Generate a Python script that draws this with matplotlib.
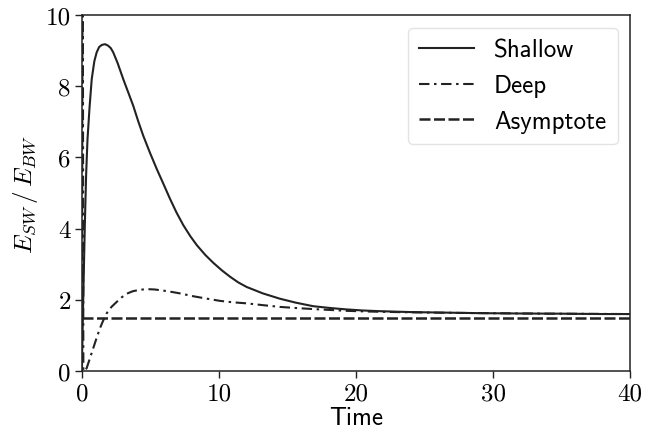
import matplotlib
matplotlib.use("Agg")
import matplotlib.pyplot as plt

plt.rcParams["mathtext.fontset"] = "cm"
plt.rcParams["axes.unicode_minus"] = False

# Energy ratio over time for the shallow-water and deep-water cases
t_shallow = [0.0, 0.1, 0.2, 0.3, 0.4, 0.55, 0.71, 0.9, 1.07, 1.25, 1.45,
             1.68, 1.9, 2.1, 2.28, 2.6, 3.01, 3.4, 3.74, 4.1, 4.47, 4.95,
             5.45, 5.95, 6.42, 6.9, 7.39, 7.9, 8.37, 9.0, 9.58, 10.2, 10.8,
             11.4, 12.02, 13.2, 14.45, 15.6, 16.88, 18.1, 19.3, 20.5, 21.75,
             24.0, 26.5, 29.0, 32.0, 35.0, 38.0, 40.0]
e_shallow = [0.3, 2.2, 4.0, 5.5, 6.5, 7.4, 8.2, 8.7, 8.95, 9.1, 9.16, 9.18,
             9.14, 9.07, 8.95, 8.65, 8.2, 7.8, 7.45, 7.02, 6.61, 6.14, 5.68,
             5.25, 4.84, 4.45, 4.1, 3.79, 3.54, 3.26, 3.04, 2.83, 2.65, 2.49,
             2.36, 2.18, 2.03, 1.92, 1.82, 1.77, 1.73, 1.70, 1.68, 1.655,
             1.64, 1.625, 1.615, 1.61, 1.6, 1.6]

t_deep = [0.0, 0.05, 0.1, 0.2, 0.34, 0.58, 0.82, 1.06, 1.31, 1.55, 1.8, 2.15,
          2.53, 2.9, 3.26, 3.7, 4.2, 4.72, 5.3, 5.9, 6.42, 7.15, 8.12, 9.0,
          10.07, 11.0, 12.02, 13.2, 14.45, 15.6, 16.86, 18.1, 19.3, 21.0,
          23.0, 25.5, 28.0, 31.0, 34.0, 37.0, 40.0]
e_deep = [0.0, 14.0, 0.0, 0.0, 0.08, 0.36, 0.64, 0.92, 1.2, 1.42, 1.62, 1.8,
          1.94, 2.07, 2.17, 2.24, 2.28, 2.30, 2.29, 2.26, 2.23, 2.18, 2.10,
          2.04, 1.97, 1.93, 1.90, 1.85, 1.80, 1.77, 1.74, 1.715, 1.69, 1.67,
          1.655, 1.64, 1.63, 1.62, 1.61, 1.605, 1.6]

t_asym = [0.0, 40.0]
e_asym = [1.5, 1.5]

x_ticks = [0, 10, 20, 30, 40]
y_ticks = [0, 2, 4, 6, 8, 10]

fig = plt.figure(figsize=(6.46, 4.35), dpi=100)
ax = fig.add_axes([82 / 646, 1 - 372 / 435, 548 / 646, 356 / 435])

col = "#222222"
ax.plot(t_shallow, e_shallow, color=col, lw=1.5, ls="-", label="Shallow")
ax.plot(t_deep, e_deep, color=col, lw=1.5, ls=(0, (5, 2.2, 1.2, 2.2)), label="Deep")
ax.plot(t_asym, e_asym, color=col, lw=1.8, ls=(0, (4.4, 1.4)), label="Asymptote")

ax.set_xlim(0, 40)
ax.set_ylim(0, 10)
ax.set_xticks(x_ticks)
ax.set_yticks(y_ticks)
ax.set_xticklabels([str(v) for v in x_ticks], fontfamily="cmr10", fontsize=18)
ax.set_yticklabels([str(v) for v in y_ticks], fontfamily="cmr10", fontsize=18)
ax.tick_params(direction="out", length=5, width=1, color="#222222", pad=3)

for s in ax.spines.values():
    s.set_color("#222222")
    s.set_linewidth(1.1)

ax.set_xlabel("Time", fontfamily="cmss10", fontsize=18, labelpad=1)
ax.set_ylabel(r"$E_{SW}\,/\,E_{BW}$", fontsize=18, labelpad=4)

leg = ax.legend(loc="upper right", prop={"family": "cmss10", "size": 18},
                frameon=True, fancybox=True, handlelength=2.2,
                borderpad=0.45, labelspacing=0.5, handletextpad=0.8,
                borderaxespad=0.5)
leg.get_frame().set_edgecolor("#dddddd")
leg.get_frame().set_linewidth(1.0)

fig.savefig("out.png", dpi=100)
